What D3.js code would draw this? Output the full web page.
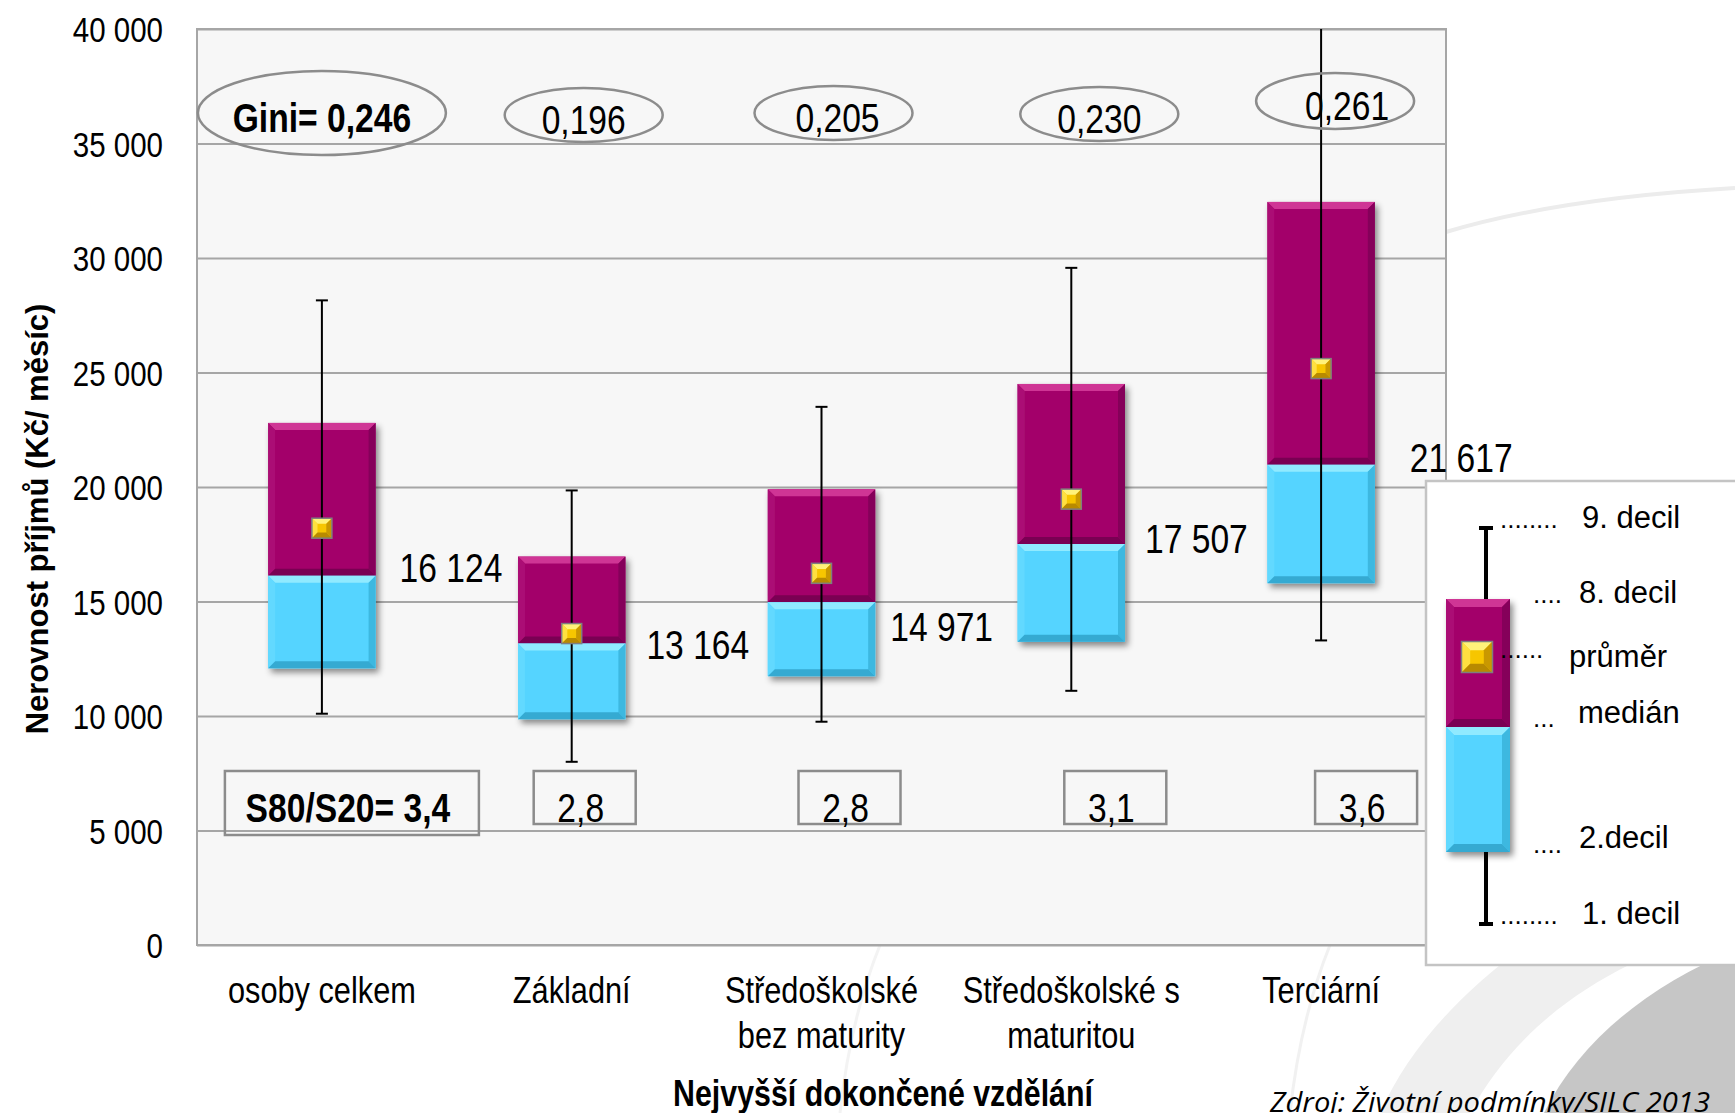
<!DOCTYPE html>
<html><head><meta charset="utf-8">
<script src="https://cdn.jsdelivr.net/npm/d3@7"></script>
<style>
html,body{margin:0;padding:0;background:#fff;}
svg{display:block;}
</style></head><body>
<svg id="chart" width="1735" height="1113"></svg>
<script>
// ---------------- data ----------------
const categories = [["osoby celkem"], ["Základní"], ["Středoškolské", "bez maturity"], ["Středoškolské s", "maturitou"], ["Terciární"]];
const decile1 = [10100, 8000, 9750, 11100, 13300];
const decile2 = [12080, 9860, 11740, 13240, 15800];
const median  = [16124, 13164, 14971, 17507, 20970];
const decile8 = [22800, 16960, 19900, 24500, 32450];
const decile9 = [28150, 19850, 23500, 29570, 42000];
const mean    = [18200, 13600, 16230, 19470, 25170];
const medianLabels = ["16 124", "13 164", "14 971", "17 507", "21 617"];
const gini   = [0.246, 0.196, 0.205, 0.230, 0.261];
const s80s20 = [3.4, 2.8, 2.8, 3.1, 3.6];
const yTicks = [0, 5000, 10000, 15000, 20000, 25000, 30000, 35000, 40000];
const legendLabels = ["9. decil", "8. decil", "průměr", "medián", "2.decil", "1. decil"];
const yTitle = "Nerovnost příjmů (Kč/ měsíc)";
const xTitle = "Nejvyšší dokončené vzdělání";
const sourceText = "Zdroj: Životní podmínky/SILC 2013";

// ---------------- layout ----------------
const SANS = "'Liberation Sans',Arial,sans-serif";
const SX = 0.82; // horizontal condensing to mimic Arial Narrow
const plot = {left: 197, top: 29, right: 1446, bottom: 945};
const giniDx = [0, 12, 12, 28, 14], giniCy = [113, 115, 113, 114, 101];
const boxDx = [30, 13, 28, 44, 45];
const labelGap = [24, 21, 15, 20, 35], labelDy = [-9, 1, 24, -6, -8];

const loc = d3.formatLocale({decimal: ",", thousands: " ", grouping: [3], currency: ["", ""]});
const fmtInt = loc.format(",d"), fmt3 = loc.format(".3f"), fmt1 = loc.format(".1f");

const svg = d3.select("#chart");
const defs = svg.append("defs");
const f = defs.append("filter").attr("id", "shadow").attr("x", "-20%").attr("y", "-20%").attr("width", "150%").attr("height", "150%");
f.append("feDropShadow").attr("dx", 3).attr("dy", 4).attr("stdDeviation", 3).attr("flood-color", "#000").attr("flood-opacity", 0.45);
defs.append("clipPath").attr("id", "plotclip").append("rect")
  .attr("x", plot.left).attr("y", plot.top).attr("width", plot.right - plot.left).attr("height", plot.bottom - plot.top);

function T(parent, x, y, str, size, opts = {}) {
  const sx = opts.sx === undefined ? SX : opts.sx;
  return parent.append("text")
    .attr("transform", `translate(${x},${y})${opts.rotate ? " rotate(" + opts.rotate + ")" : ""} scale(${sx},1)`)
    .attr("font-family", SANS).attr("font-size", size).attr("text-anchor", opts.anchor || "start")
    .attr("font-weight", opts.weight || "normal").attr("fill", "#000").attr("dy", opts.dy || null).text(str);
}

// background decoration
const deco = svg.append("g");
deco.append("path").attr("d", "M1380,1113 C1430,1000 1560,900 1735,840 L1735,1113 Z").attr("fill", "#efefef");
deco.append("path").attr("d", "M1470,1113 C1520,1020 1610,960 1735,925 L1735,1113 Z").attr("fill", "#ffffff");
deco.append("path").attr("d", "M1544,1113 C1580,1040 1650,985 1735,950 L1735,1113 Z").attr("fill", "#c6c6c6");
deco.append("path").attr("d", "M1446,232 Q1560,198 1735,188").attr("fill", "none").attr("stroke", "#ececec").attr("stroke-width", 4);
deco.append("path").attr("d", "M840,1113 Q850,1020 880,945").attr("fill", "none").attr("stroke", "#f3f3f3").attr("stroke-width", 3);
deco.append("path").attr("d", "M1290,1113 Q1300,1020 1330,945").attr("fill", "none").attr("stroke", "#f1f1f1").attr("stroke-width", 3);

// scales
const x = d3.scaleBand().domain(d3.range(categories.length)).range([plot.left, plot.right]).padding(0);
const y = d3.scaleLinear().domain([0, 40000]).range([plot.bottom, plot.top]);
const cx = i => x(i) + x.bandwidth() / 2;
const barW = x.bandwidth() * 0.43;

// plot background
svg.append("rect").attr("x", plot.left).attr("y", plot.top).attr("width", plot.right - plot.left)
  .attr("height", plot.bottom - plot.top).attr("fill", "#f7f7f7");

// gridlines
const grid = svg.append("g").attr("transform", `translate(${plot.left},0)`)
  .call(d3.axisLeft(y).tickValues(yTicks).tickSize(-(plot.right - plot.left)).tickFormat(""));
grid.select(".domain").remove();
grid.selectAll("line").attr("stroke", "#a6a6a6").attr("stroke-width", 2);

// border
svg.append("rect").attr("x", plot.left).attr("y", plot.top).attr("width", plot.right - plot.left)
  .attr("height", plot.bottom - plot.top).attr("fill", "none").attr("stroke", "#a6a6a6").attr("stroke-width", 2);

// y axis labels
const yAx = svg.append("g").attr("transform", `translate(${plot.left},0)`)
  .call(d3.axisLeft(y).tickValues(yTicks).tickSize(0).tickPadding(34).tickFormat(fmtInt));
yAx.select(".domain").remove();
yAx.selectAll("text").attr("font-family", SANS).attr("font-size", 36).attr("fill", "#000")
  .attr("x", -34 / SX).attr("transform", `scale(${SX},1)`).attr("dy", "0.35em");

// bevel helper
function bevelRect(g, x0, y0, w, h, c, b) {
  const p = pts => g.append("polygon").attr("points", pts.map(d => d.join(",")).join(" "));
  g.append("rect").attr("x", x0).attr("y", y0).attr("width", w).attr("height", h).attr("fill", c.base);
  p([[x0, y0], [x0 + w, y0], [x0 + w - b, y0 + b], [x0 + b, y0 + b]]).attr("fill", c.top);
  p([[x0, y0], [x0 + b, y0 + b], [x0 + b, y0 + h - b], [x0, y0 + h]]).attr("fill", c.left);
  p([[x0 + w, y0], [x0 + w, y0 + h], [x0 + w - b, y0 + h - b], [x0 + w - b, y0 + b]]).attr("fill", c.right);
  p([[x0, y0 + h], [x0 + w, y0 + h], [x0 + w - b, y0 + h - b], [x0 + b, y0 + h - b]]).attr("fill", c.bottom);
}
const MAG = {base: "#a3006a", top: "#cf3495", left: "#ab0e74", right: "#85005a", bottom: "#7a0052"};
const CYA = {base: "#55d4ff", top: "#90eaff", left: "#62d9ff", right: "#3cb8e0", bottom: "#34aad2"};
const GOLD = {base: "#f7c600", top: "#fff27a", left: "#ffe040", right: "#c99800", bottom: "#b88a00"};

function meanMarker(g, mx, my, s) {
  const m = g.append("g");
  bevelRect(m, mx - s / 2, my - s / 2, s, s, GOLD, s * 0.28);
  m.append("rect").attr("x", mx - s / 2).attr("y", my - s / 2).attr("width", s).attr("height", s)
    .attr("fill", "none").attr("stroke", "#7f7f7f").attr("stroke-width", 1.5);
}

// bars
const bars = svg.append("g");
categories.forEach((c, i) => {
  const g = bars.append("g").attr("filter", "url(#shadow)");
  const x0 = cx(i) - barW / 2;
  bevelRect(g, x0, y(decile8[i]), barW, y(median[i]) - y(decile8[i]), MAG, 7);
  bevelRect(g, x0, y(median[i]), barW, y(decile2[i]) - y(median[i]), CYA, 7);
});

// whiskers
const wh = svg.append("g").attr("clip-path", "url(#plotclip)");
categories.forEach((c, i) => {
  const xc = cx(i);
  wh.append("line").attr("x1", xc).attr("x2", xc).attr("y1", y(decile1[i])).attr("y2", y(decile9[i]))
    .attr("stroke", "#000").attr("stroke-width", 2);
  [decile1[i], decile9[i]].forEach(v => {
    wh.append("line").attr("x1", xc - 6).attr("x2", xc + 6).attr("y1", y(v)).attr("y2", y(v))
      .attr("stroke", "#000").attr("stroke-width", 2);
  });
});

// mean markers
categories.forEach((c, i) => meanMarker(svg, cx(i), y(mean[i]), 20));

// median labels
medianLabels.forEach((t, i) => {
  T(svg, cx(i) + barW / 2 + labelGap[i], y(median[i]) + labelDy[i], t, 41, {dy: "0.36em"});
});

// Gini ellipses
gini.forEach((v, i) => {
  const ex = cx(i) + giniDx[i], ey = giniCy[i];
  const first = i === 0;
  svg.append("ellipse").attr("cx", ex).attr("cy", ey).attr("rx", first ? 124 : 79).attr("ry", first ? 42 : (i === 4 ? 28 : 27))
    .attr("fill", "none").attr("stroke", "#8c8c8c").attr("stroke-width", 2.5);
  T(svg, ex + (i === 4 ? 12 : (i === 2 ? 4 : 0)), ey + 19, (first ? "Gini= " : "") + fmt3(v), 41,
    {anchor: "middle", weight: first ? "bold" : "normal"});
});

// S80/S20 boxes
s80s20.forEach((v, i) => {
  const first = i === 0;
  const bx = cx(i) + boxDx[i], w = first ? 254 : 102, h = first ? 64 : 53;
  svg.append("rect").attr("x", bx - w / 2).attr("y", 771).attr("width", w).attr("height", h)
    .attr("fill", "none").attr("stroke", "#8c8c8c").attr("stroke-width", 2.5);
  T(svg, bx - 4, 822, (first ? "S80/S20= " : "") + fmt1(v), 41, {anchor: "middle", weight: first ? "bold" : "normal"});
});

// category labels
categories.forEach((lines, i) => {
  lines.forEach((l, k) => T(svg, cx(i), 1003 + k * 45, l, 37.5, {anchor: "middle"}));
});

// axis titles
T(svg, 48, 519, yTitle, 31, {anchor: "middle", weight: "bold", rotate: -90, sx: 1});
T(svg, 883, 1106, xTitle, 37, {anchor: "middle", weight: "bold"});

// source
svg.append("text").attr("x", 1270).attr("y", 1112).attr("font-family", "'Open Sans',sans-serif").attr("font-style", "italic")
  .attr("font-size", 28).attr("fill", "#000").attr("textLength", 440).attr("lengthAdjust", "spacingAndGlyphs").text(sourceText);

// legend
const lg = svg.append("g");
lg.append("rect").attr("x", 1426).attr("y", 481).attr("width", 330).attr("height", 484)
  .attr("fill", "#fff").attr("stroke", "#c4c4c4").attr("stroke-width", 2.5);
lg.append("line").attr("x1", 1486).attr("x2", 1486).attr("y1", 528).attr("y2", 924).attr("stroke", "#000").attr("stroke-width", 4);
[528, 924].forEach(v => lg.append("line").attr("x1", 1479).attr("x2", 1493).attr("y1", v).attr("y2", v).attr("stroke", "#000").attr("stroke-width", 4));
const lb = lg.append("g").attr("filter", "url(#shadow)");
bevelRect(lb, 1446, 599, 64, 128, MAG, 8);
bevelRect(lb, 1446, 727, 64, 125, CYA, 8);
meanMarker(lg, 1477, 657, 31);
const legendPos = [
  {tx: 1582, ty: 528, dx: 1500, dy: 528, dots: "........"},
  {tx: 1579, ty: 603, dx: 1533, dy: 603, dots: "...."},
  {tx: 1569, ty: 667, dx: 1500, dy: 658, dots: "......"},
  {tx: 1578, ty: 723, dx: 1533, dy: 727, dots: "..."},
  {tx: 1579, ty: 848, dx: 1533, dy: 853, dots: "...."},
  {tx: 1582, ty: 924, dx: 1500, dy: 924, dots: "........"}
];
legendLabels.forEach((l, k) => {
  const p = legendPos[k];
  lg.append("text").attr("x", p.tx).attr("y", p.ty).attr("font-family", SANS).attr("font-size", 31).attr("fill", "#000").text(l);
  lg.append("text").attr("x", p.dx).attr("y", p.dy).attr("font-family", SANS).attr("font-size", 26).attr("fill", "#000").text(p.dots);
});
</script>
</body></html>
